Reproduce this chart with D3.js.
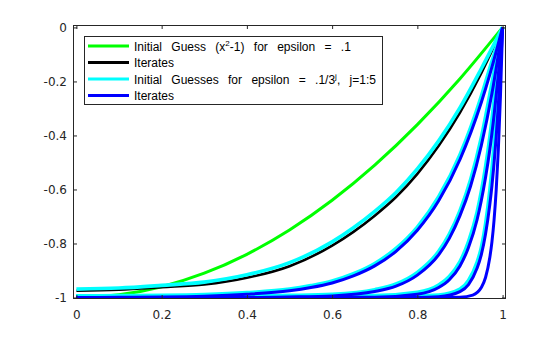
<!DOCTYPE html>
<html>
<head>
<meta charset="utf-8">
<script src="https://cdn.jsdelivr.net/npm/d3@7"></script>
<style>
  html, body { margin: 0; padding: 0; background: #fff; }
  svg { display: block; }
</style>
</head>
<body>
<svg id="chart" width="560" height="337"></svg>
<script>
// Axis ticks
const xTicks = [0, 0.2, 0.4, 0.6, 0.8, 1];
const xTickLabels = ["0", "0.2", "0.4", "0.6", "0.8", "1"];
const yTicks = [0, -0.2, -0.4, -0.6, -0.8, -1];
const yTickLabels = ["0", "-0.2", "-0.4", "-0.6", "-0.8", "-1"];

// Initial guess x^2 - 1 for epsilon = .1
const startX = [0, 0.1, 0.2, 0.3, 0.4, 0.5, 0.6, 0.7, 0.8, 0.9, 1];
const startY = [-1, -0.99, -0.96, -0.91, -0.84, -0.75, -0.64, -0.51, -0.36, -0.19, 0];

// Converged iterate for epsilon = .1
const baseX = [0, 0.1, 0.2, 0.3, 0.4, 0.5, 0.6, 0.65, 0.7, 0.75, 0.8, 0.85, 0.9, 0.95, 1];
const baseY = [-0.975, -0.971, -0.962, -0.952, -0.927, -0.884, -0.808, -0.757, -0.697, -0.628, -0.542, -0.438, -0.315, -0.169, 0];

// Initial guesses for epsilon = .1/3^j, j = 1..5
const guessX1 = [0, 0.1, 0.2, 0.3, 0.4, 0.5, 0.6, 0.65, 0.7, 0.75, 0.8, 0.85, 0.9, 0.95, 1];
const guessY1 = [-0.969, -0.965, -0.955, -0.943, -0.916, -0.871, -0.794, -0.742, -0.681, -0.611, -0.524, -0.42, -0.297, -0.153, 0];
const guessX2 = [0, 0.1, 0.2, 0.3, 0.4, 0.5, 0.55, 0.6, 0.65, 0.7, 0.75, 0.8, 0.85, 0.9, 0.95, 0.97, 1];
const guessY2 = [-0.994, -0.993, -0.992, -0.989, -0.982, -0.969, -0.956, -0.939, -0.912, -0.874, -0.818, -0.739, -0.627, -0.471, -0.255, -0.15, 0];
const guessX3 = [0, 0.4, 0.5, 0.6, 0.7, 0.75, 0.8, 0.85, 0.875, 0.9, 0.925, 0.95, 0.975, 1];
const guessY3 = [-0.994, -0.994, -0.992, -0.988, -0.971, -0.95, -0.907, -0.829, -0.765, -0.678, -0.563, -0.408, -0.206, 0];
const guessX4 = [0, 0.7, 0.8, 0.85, 0.875, 0.9, 0.92, 0.94, 0.95, 0.96, 0.97, 0.98, 0.99, 1];
const guessY4 = [-0.994, -0.993, -0.981, -0.954, -0.922, -0.867, -0.793, -0.685, -0.608, -0.516, -0.406, -0.27, -0.111, 0];
const guessX5 = [0, 0.8, 0.85, 0.9, 0.92, 0.94, 0.95, 0.96, 0.97, 0.975, 0.98, 0.985, 0.99, 0.995, 1];
const guessY5 = [-0.994, -0.994, -0.991, -0.969, -0.937, -0.87, -0.815, -0.728, -0.604, -0.526, -0.434, -0.322, -0.194, -0.043, 0];

// Iterates for epsilon = .1/3^j, j = 1..5
const iterX1 = [0, 0.1, 0.2, 0.3, 0.4, 0.5, 0.55, 0.6, 0.65, 0.7, 0.75, 0.8, 0.85, 0.9, 0.95, 0.97, 1];
const iterY1 = [-1, -0.999, -0.998, -0.995, -0.988, -0.975, -0.963, -0.946, -0.92, -0.883, -0.829, -0.751, -0.642, -0.489, -0.278, -0.175, 0];
const iterX2 = [0, 0.4, 0.5, 0.6, 0.7, 0.75, 0.8, 0.85, 0.875, 0.9, 0.925, 0.95, 0.975, 1];
const iterY2 = [-1, -1, -0.998, -0.994, -0.978, -0.958, -0.917, -0.842, -0.781, -0.697, -0.587, -0.438, -0.245, 0];
const iterX3 = [0, 0.7, 0.8, 0.85, 0.875, 0.9, 0.92, 0.94, 0.95, 0.96, 0.97, 0.98, 0.99, 1];
const iterY3 = [-1, -0.999, -0.988, -0.963, -0.934, -0.883, -0.815, -0.713, -0.642, -0.556, -0.453, -0.325, -0.175, 0];
const iterX4 = [0, 0.8, 0.85, 0.9, 0.92, 0.94, 0.95, 0.96, 0.97, 0.975, 0.98, 0.985, 0.99, 0.995, 1];
const iterY4 = [-1, -1, -0.997, -0.978, -0.952, -0.892, -0.842, -0.765, -0.656, -0.587, -0.503, -0.404, -0.288, -0.153, 0];
const iterX5 = [0, 0.85, 0.9, 0.93, 0.95, 0.96, 0.97, 0.975, 0.98, 0.985, 0.99, 0.995, 1];
const iterY5 = [-1, -1, -0.999, -0.991, -0.963, -0.926, -0.852, -0.794, -0.713, -0.602, -0.453, -0.254, 0];

const legendItems = [
  { color: "#00ff00", parts: [["Initial Guess (x", 0], ["2", 1], ["-1) for epsilon = .1", 0]] },
  { color: "#000000", parts: [["Iterates", 0]] },
  { color: "#00ffff", parts: [["Initial Guesses for epsilon = .1/3", 0], ["j", 1], [", j=1:5", 0]] },
  { color: "#0000ff", parts: [["Iterates", 0]] }
];

const svg = d3.select("#chart");
const W = 560, H = 337;
const plot = { left: 73, right: 506, top: 25, bottom: 299 };
const axisColor = "#262626";

const x = d3.scaleLinear().domain([-0.008, 1.008]).range([plot.left, plot.right]);
const y = d3.scaleLinear().domain([-1.0055, 0.009]).range([plot.bottom, plot.top]);

svg.append("rect").attr("width", W).attr("height", H).attr("fill", "#fff");
svg.append("rect")
  .attr("x", plot.left).attr("y", plot.top)
  .attr("width", plot.right - plot.left).attr("height", plot.bottom - plot.top)
  .attr("fill", "#fff");

svg.append("defs").append("clipPath").attr("id", "plotClip")
  .append("rect")
  .attr("x", plot.left).attr("y", plot.top)
  .attr("width", plot.right - plot.left).attr("height", plot.bottom - plot.top);

const line = d3.line()
  .x(d => x(d[0]))
  .y(d => y(d[1]))
  .curve(d3.curveMonotoneX);

const zip = (xs, ys) => xs.map((v, i) => [v, ys[i]]);

const curves = svg.append("g").attr("clip-path", "url(#plotClip)");

function drawCurve(xs, ys, color, width) {
  curves.append("path")
    .datum(zip(xs, ys))
    .attr("fill", "none")
    .attr("stroke", color)
    .attr("stroke-width", width)
    .attr("stroke-linejoin", "round")
    .attr("d", line);
}

drawCurve(startX, startY, "#00ff00", 3);
drawCurve(baseX, baseY, "#000000", 2.6);
[[guessX1, guessY1], [guessX2, guessY2], [guessX3, guessY3], [guessX4, guessY4], [guessX5, guessY5]]
  .forEach(([xs, ys]) => drawCurve(xs, ys, "#00ffff", 3.6));
[[iterX1, iterY1], [iterX2, iterY2], [iterX3, iterY3], [iterX4, iterY4], [iterX5, iterY5]]
  .forEach(([xs, ys]) => drawCurve(xs, ys, "#0000ff", 3));

// Axes with inward ticks on all four sides
const tickFont = "DejaVu Sans, sans-serif";
function styleAxis(g) {
  g.select(".domain").remove();
  g.selectAll(".tick line").attr("stroke", axisColor).attr("stroke-width", 1);
  g.selectAll(".tick text")
    .attr("fill", axisColor)
    .attr("font-family", tickFont)
    .attr("font-size", 12);
}

svg.append("g")
  .attr("transform", `translate(0,${plot.bottom})`)
  .call(d3.axisBottom(x).tickValues(xTicks)
    .tickFormat((d, i) => xTickLabels[i]).tickSize(-4).tickSizeOuter(0).tickPadding(11))
  .call(styleAxis);

svg.append("g")
  .attr("transform", `translate(0,${plot.top})`)
  .call(d3.axisTop(x).tickValues(xTicks).tickFormat("").tickSize(-4).tickSizeOuter(0))
  .call(styleAxis);

svg.append("g")
  .attr("transform", `translate(${plot.left},0)`)
  .call(d3.axisLeft(y).tickValues(yTicks)
    .tickFormat((d, i) => yTickLabels[i]).tickSize(-4).tickSizeOuter(0).tickPadding(6))
  .call(styleAxis);

svg.append("g")
  .attr("transform", `translate(${plot.right},0)`)
  .call(d3.axisRight(y).tickValues(yTicks).tickFormat("").tickSize(-4).tickSizeOuter(0))
  .call(styleAxis);

// Axes box
svg.append("rect")
  .attr("x", plot.left + 0.5).attr("y", plot.top + 0.5)
  .attr("width", plot.right - plot.left - 1).attr("height", plot.bottom - plot.top - 1)
  .attr("fill", "none").attr("stroke", axisColor).attr("stroke-width", 1);

// Legend
const legend = svg.append("g");
legend.append("rect")
  .attr("x", 84.5).attr("y", 36.5).attr("width", 298).attr("height", 68)
  .attr("fill", "#fff").attr("stroke", axisColor).attr("stroke-width", 1);

const rowY = d3.scaleLinear().domain([0, 3]).range([46, 95.5]);
legendItems.forEach((item, i) => {
  const cy = rowY(i);
  legend.append("line")
    .attr("x1", 88).attr("x2", 129)
    .attr("y1", cy).attr("y2", cy)
    .attr("stroke", item.color).attr("stroke-width", 3);
  const t = legend.append("text")
    .attr("x", 134).attr("y", cy + 4.5)
    .attr("font-family", "Liberation Sans, Arial, sans-serif")
    .attr("font-size", 12)
    .attr("word-spacing", 6)
    .attr("fill", "#000");
  item.parts.forEach(([s, sup]) => {
    const ts = t.append("tspan").text(s);
    if (sup) ts.attr("font-size", 8).attr("dy", -5);
    else if (t.selectAll("tspan").size() > 1) ts.attr("dy", 5);
  });
});
</script>
</body>
</html>
